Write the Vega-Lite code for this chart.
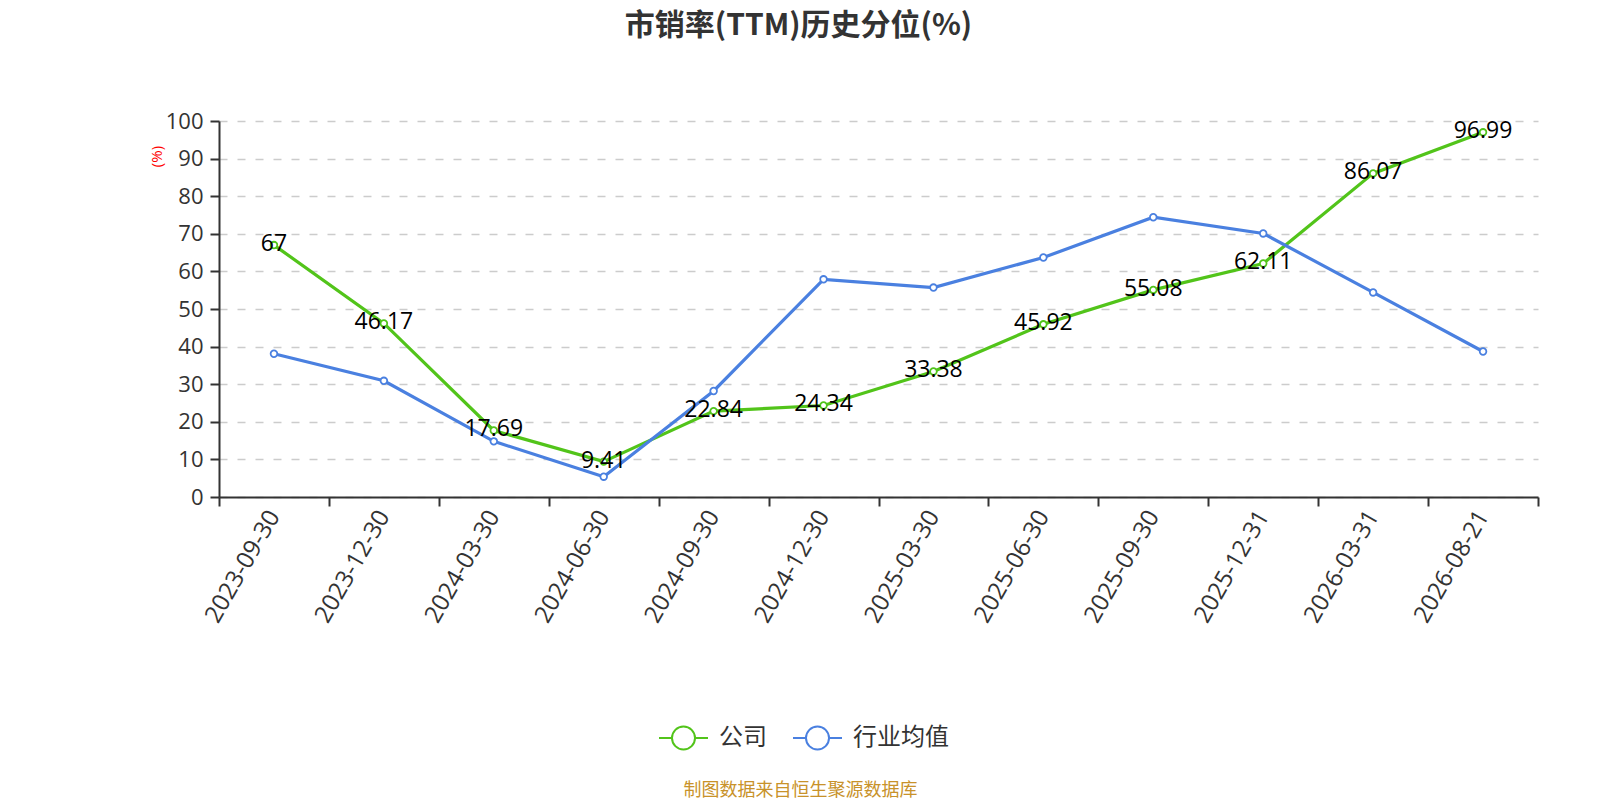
{
  "$schema": "https://vega.github.io/schema/vega-lite/v6.json",
  "autosize": {"type": "none"},
  "padding": {"left": 219, "top": 121, "right": 62, "bottom": 303},
  "width": 1319,
  "height": 376,
  "background": "white",
  "config": {
    "font": "Open Sans, Noto Sans CJK SC",
    "view": {"stroke": null}
  },
  "title": {
    "text": "市销率(TTM)历史分位(%)",
    "font": "Noto Sans CJK SC",
    "fontSize": 30,
    "fontWeight": "bold",
    "color": "#333333",
    "anchor": "middle",
    "dx": -80,
    "offset": 69
  },
  "data": {
    "values": [
      {"date": "2023-09-30", "series": "公司", "value": 67},
      {"date": "2023-12-30", "series": "公司", "value": 46.17},
      {"date": "2024-03-30", "series": "公司", "value": 17.69},
      {"date": "2024-06-30", "series": "公司", "value": 9.41},
      {"date": "2024-09-30", "series": "公司", "value": 22.84},
      {"date": "2024-12-30", "series": "公司", "value": 24.34},
      {"date": "2025-03-30", "series": "公司", "value": 33.38},
      {"date": "2025-06-30", "series": "公司", "value": 45.92},
      {"date": "2025-09-30", "series": "公司", "value": 55.08},
      {"date": "2025-12-31", "series": "公司", "value": 62.11},
      {"date": "2026-03-31", "series": "公司", "value": 86.07},
      {"date": "2026-08-21", "series": "公司", "value": 96.99},
      {"date": "2023-09-30", "series": "行业均值", "value": 38.1},
      {"date": "2023-12-30", "series": "行业均值", "value": 30.9},
      {"date": "2024-03-30", "series": "行业均值", "value": 14.8},
      {"date": "2024-06-30", "series": "行业均值", "value": 5.4},
      {"date": "2024-09-30", "series": "行业均值", "value": 28.2},
      {"date": "2024-12-30", "series": "行业均值", "value": 57.9},
      {"date": "2025-03-30", "series": "行业均值", "value": 55.7},
      {"date": "2025-06-30", "series": "行业均值", "value": 63.7},
      {"date": "2025-09-30", "series": "行业均值", "value": 74.4},
      {"date": "2025-12-31", "series": "行业均值", "value": 70.1},
      {"date": "2026-03-31", "series": "行业均值", "value": 54.4},
      {"date": "2026-08-21", "series": "行业均值", "value": 38.7}
    ]
  },
  "encoding": {
    "x": {
      "field": "date",
      "type": "ordinal",
      "sort": null,
      "scale": {"type": "band", "paddingInner": 0, "paddingOuter": 0},
      "axis": {
        "title": "制图数据来自恒生聚源数据库",
        "titleFont": "Noto Sans CJK SC",
        "titleColor": "#c8922a",
        "titleFontSize": 18,
        "titleFontWeight": "normal",
        "titleX": 581,
        "titleY": 293,
        "titleBaseline": "middle",
        "titleAlign": "center",
        "labelAngle": -60,
        "labelAlign": "right",
        "labelBaseline": "middle",
        "labelFontSize": 24,
        "labelColor": "#333333",
        "labelPadding": 6,
        "tickBand": "extent",
        "tickSize": 9,
        "tickColor": "#333333",
        "tickWidth": 2,
        "domainColor": "#333333",
        "domainWidth": 2,
        "grid": false
      }
    },
    "y": {
      "field": "value",
      "type": "quantitative",
      "scale": {"domain": [0, 100], "nice": false},
      "axis": {
        "values": [0, 10, 20, 30, 40, 50, 60, 70, 80, 90, 100],
        "title": "(%)",
        "titleColor": "#ff0000",
        "titleFontSize": 15,
        "titleFontWeight": "normal",
        "titleX": -63,
        "titleY": 35,
        "titleAlign": "center",
        "titleBaseline": "middle",
        "labelFontSize": 22,
        "labelColor": "#333333",
        "labelPadding": 7,
        "tickSize": 9,
        "tickColor": "#333333",
        "tickWidth": 2,
        "domainColor": "#333333",
        "domainWidth": 2,
        "grid": true,
        "gridColor": "#cccccc",
        "gridDash": [8, 10],
        "gridWidth": 1.5
      }
    },
    "color": {
      "field": "series",
      "type": "nominal",
      "scale": {"domain": ["公司", "行业均值"], "range": ["#52c41a", "#4a80e0"]},
      "legend": {
        "title": null,
        "orient": "none",
        "direction": "horizontal",
        "legendX": 439,
        "legendY": 591,
        "symbolType": "M-1,0L-0.47,0M0.47,0L1,0M-0.47,0A0.47,0.47 0 1,1 0.47,0A0.47,0.47 0 1,1 -0.47,0",
        "symbolSize": 2400,
        "symbolStrokeWidth": 2,
        "labelFont": "Noto Sans CJK SC",
        "labelFontSize": 24,
        "labelColor": "#333333",
        "labelOffset": 10,
        "columnPadding": 22,
        "encode": {
          "symbols": {
            "update": {
              "fill": {"value": "white"},
              "fillOpacity": {"value": 1},
              "opacity": {"value": 1},
              "stroke": {"scale": "color", "field": "value"},
              "strokeWidth": {"value": 2}
            }
          }
        }
      }
    }
  },
  "layer": [
    {
      "mark": {"type": "line", "strokeWidth": 3.2}
    },
    {
      "mark": {"type": "point", "filled": false, "fill": "white", "fillOpacity": 1, "size": 44, "strokeWidth": 1.8, "opacity": 1}
    },
    {
      "transform": [{"filter": "datum.series === '公司'"}],
      "mark": {"type": "text", "fontSize": 23, "baseline": "middle", "dy": -1},
      "encoding": {
        "text": {"field": "value", "type": "nominal"},
        "color": {"value": "#000000"}
      }
    }
  ]
}
